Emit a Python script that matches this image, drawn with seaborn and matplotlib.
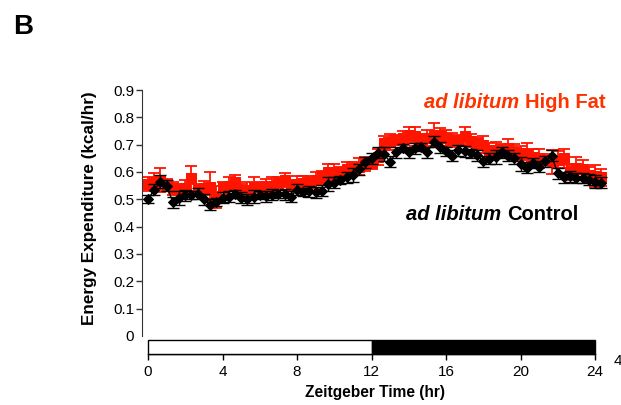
import numpy as np
import pandas as pd
import matplotlib
matplotlib.use("Agg")
import matplotlib.pyplot as plt
from matplotlib.patches import Rectangle
import seaborn as sns

# Zeitgeber time, sampled every 20 minutes
zt_hours = [i / 3 for i in range(74)]

# Energy expenditure (kcal/hr), ad libitum control diet
control_ee = [
    0.500, 0.535, 0.565, 0.550, 0.490, 0.505, 0.515, 0.515, 0.520, 0.500,
    0.480, 0.490, 0.505, 0.510, 0.520, 0.505, 0.500, 0.510, 0.516, 0.512,
    0.516, 0.520, 0.518, 0.510, 0.535, 0.528, 0.530, 0.525, 0.532, 0.555,
    0.560, 0.570, 0.580, 0.590, 0.610, 0.636, 0.650, 0.670, 0.665, 0.637,
    0.673, 0.687, 0.673, 0.687, 0.690, 0.673, 0.710, 0.690, 0.675, 0.660,
    0.680, 0.675, 0.668, 0.662, 0.640, 0.648, 0.655, 0.673, 0.660, 0.650,
    0.630, 0.615, 0.633, 0.620, 0.640, 0.660, 0.595, 0.580, 0.585, 0.578,
    0.578, 0.572, 0.565, 0.560,
]
control_sem = [
    0.015, 0.020, 0.025, 0.020, 0.020, 0.025, 0.020, 0.015, 0.020, 0.020,
    0.020, 0.015, 0.020, 0.020, 0.015, 0.020, 0.020, 0.025, 0.015, 0.020,
    0.020, 0.015, 0.020, 0.020, 0.020, 0.015, 0.020, 0.020, 0.020, 0.025,
    0.020, 0.015, 0.020, 0.025, 0.020, 0.020, 0.020, 0.020, 0.025, 0.020,
    0.020, 0.015, 0.020, 0.020, 0.015, 0.020, 0.020, 0.020, 0.015, 0.020,
    0.020, 0.020, 0.015, 0.020, 0.020, 0.020, 0.025, 0.020, 0.020, 0.020,
    0.025, 0.020, 0.020, 0.020, 0.020, 0.020, 0.020, 0.020, 0.020, 0.020,
    0.020, 0.020, 0.025, 0.020,
]

# Energy expenditure (kcal/hr), ad libitum high-fat diet
highfat_ee = [
    0.555, 0.565, 0.570, 0.553, 0.540, 0.535, 0.540, 0.577, 0.535, 0.542,
    0.545, 0.510, 0.545, 0.550, 0.565, 0.535, 0.535, 0.545, 0.545, 0.550,
    0.550, 0.560, 0.570, 0.550, 0.555, 0.560, 0.565, 0.570, 0.580, 0.600,
    0.595, 0.600, 0.610, 0.615, 0.620, 0.630, 0.632, 0.655, 0.705, 0.710,
    0.717, 0.725, 0.735, 0.730, 0.720, 0.725, 0.735, 0.735, 0.725, 0.717,
    0.717, 0.730, 0.715, 0.705, 0.700, 0.680, 0.680, 0.683, 0.687, 0.673,
    0.670, 0.667, 0.655, 0.650, 0.645, 0.637, 0.645, 0.650, 0.600, 0.615,
    0.610, 0.590, 0.585, 0.580,
]
highfat_sem = [
    0.025, 0.030, 0.045, 0.020, 0.025, 0.020, 0.030, 0.045, 0.020, 0.025,
    0.055, 0.040, 0.020, 0.030, 0.025, 0.020, 0.030, 0.035, 0.020, 0.025,
    0.030, 0.020, 0.025, 0.020, 0.030, 0.025, 0.020, 0.030, 0.025, 0.030,
    0.035, 0.020, 0.025, 0.020, 0.030, 0.025, 0.020, 0.030, 0.025, 0.030,
    0.020, 0.025, 0.030, 0.035, 0.020, 0.030, 0.045, 0.025, 0.030, 0.025,
    0.020, 0.035, 0.025, 0.020, 0.030, 0.025, 0.030, 0.020, 0.035, 0.030,
    0.025, 0.040, 0.030, 0.035, 0.020, 0.045, 0.030, 0.035, 0.030, 0.040,
    0.035, 0.030, 0.040, 0.030,
]

y_ticks = [0, 0.1, 0.2, 0.3, 0.4, 0.5, 0.6, 0.7, 0.8, 0.9]
y_tick_labels = ["0", "0.1", "0.2", "0.3", "0.4", "0.5", "0.6", "0.7", "0.8", "0.9"]
x_ticks = [0, 4, 8, 12, 16, 20, 24]

RED = "#ff1400"
RED_TEXT = "#ff3300"

sns.set_style("ticks")
plt.rcParams["font.family"] = ["Liberation Sans", "DejaVu Sans"]
plt.rcParams.update({
    "text.color": "black",
    "axes.labelcolor": "black",
    "xtick.color": "black",
    "ytick.color": "black",
    "axes.edgecolor": "black",
})

df = pd.DataFrame({
    "zt": zt_hours * 2,
    "ee": highfat_ee + control_ee,
    "diet": ["High Fat"] * len(zt_hours) + ["Control"] * len(zt_hours),
})

W, H = 621, 405
fig = plt.figure(figsize=(W / 100, H / 100), dpi=100)
ax = fig.add_axes([148 / W, 1 - 354 / H, 447 / W, 264 / H])

# High fat series first, control drawn on top
ax.errorbar(zt_hours, highfat_ee, yerr=highfat_sem, fmt="none", ecolor=RED,
            elinewidth=1.3, capsize=4.5, capthick=1.3, zorder=2, clip_on=False)
sns.lineplot(data=df[df.diet == "High Fat"], x="zt", y="ee", ax=ax, color=RED,
             marker="s", markersize=7, markeredgecolor=RED, linewidth=2.4,
             zorder=3, clip_on=False)
ax.errorbar(zt_hours, control_ee, yerr=control_sem, fmt="none", ecolor="black",
            elinewidth=1.0, capsize=4.5, capthick=1.0, zorder=4, clip_on=False)
sns.lineplot(data=df[df.diet == "Control"], x="zt", y="ee", ax=ax, color="black",
             marker="D", markersize=5, markeredgecolor="black", linewidth=1.0,
             zorder=5, clip_on=False)

bar_bottom, bar_top = -0.066, -0.013
ax.set_xlim(0, 24)
ax.set_ylim(bar_bottom, 0.9)

# Light / dark phase bar
ax.add_patch(Rectangle((0, bar_bottom), 12, bar_top - bar_bottom, facecolor="white",
                       edgecolor="black", linewidth=1.0, zorder=6, clip_on=False))
ax.add_patch(Rectangle((12, bar_bottom), 12, bar_top - bar_bottom, facecolor="black",
                       edgecolor="black", linewidth=1.0, zorder=6, clip_on=False))

ax.spines["top"].set_visible(False)
ax.spines["right"].set_visible(False)
ax.spines["left"].set_bounds(0, 0.9)
ax.spines["left"].set_position(("outward", 4))
ax.spines["left"].set_color("#333333")
ax.spines["bottom"].set_bounds(0, 24)
ax.spines["bottom"].set_linewidth(1.0)

ax.set_yticks(y_ticks)
ax.set_yticklabels(y_tick_labels)
ax.set_xticks(x_ticks)
ax.tick_params(axis="y", length=4, width=1.0, pad=2, labelsize=11, color="#333333")
ax.tick_params(axis="x", length=4, width=1.0, pad=4, labelsize=11)
ax.yaxis.get_major_ticks()[0].tick1line.set_visible(False)

ax.set_xlabel("Zeitgeber Time (hr)", fontsize=11.2, fontweight="bold")
ax.xaxis.set_label_coords(0.508, -0.144)
ax.xaxis.label.set_va("center")
ax.set_ylabel("Energy Expenditure (kcal/hr)", fontsize=12.3, fontweight="bold")
ax.yaxis.set_label_coords(-0.130, 0.553)
ax.yaxis.label.set_va("center")

fig.text(13 / W, 1 - 27 / H, "B", fontsize=20, fontweight="bold", va="center")


def series_label(x_px, y_px, rest, color):
    """Italic 'ad libitum' followed by the upright diet name."""
    t1 = fig.text(x_px / W, 1 - y_px / H, "ad libitum ", fontsize=14.5,
                  fontweight="bold", style="italic", color=color, va="center")
    fig.canvas.draw()
    bb = t1.get_window_extent()
    fig.text(bb.x1 / W, 1 - y_px / H, rest, fontsize=14.5, fontweight="bold",
             color=color, va="center")


series_label(424, 103, "High Fat", RED_TEXT)
series_label(406, 215, "Control", "black")

fig.text(614 / W, 1 - 361 / H, "4", fontsize=11, va="center")

fig.savefig("out.png", dpi=100)
